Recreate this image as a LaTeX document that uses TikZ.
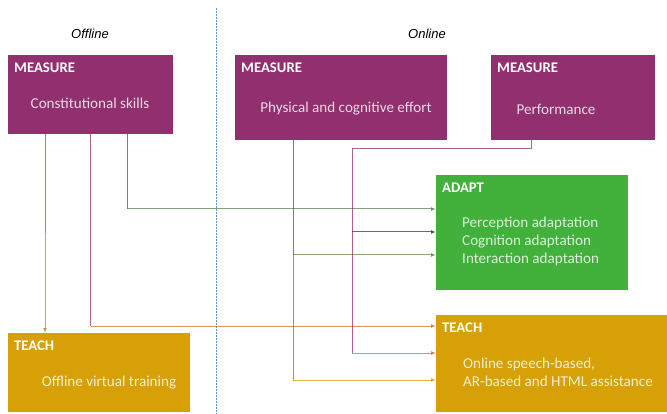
\documentclass[tikz,border=0pt]{standalone}
\usepackage{fontspec}
\setmainfont{Carlito}
\newfontfamily\sidefont{Liberation Sans}
\usetikzlibrary{positioning}
\usetikzlibrary{arrows.meta}
\definecolor{measureC}{RGB}{146,47,110}
\definecolor{adaptC}{RGB}{65,177,59}
\definecolor{teachC}{RGB}{215,160,6}
\definecolor{splitC}{RGB}{91,155,213}
\tikzset{
box/.style={fill=#1, anchor=north west, inner sep=0pt},
head/.style={text=white, font=\fontsize{14.7}{16}\selectfont\bfseries, inner sep=0pt, anchor=north west},
body/.style={text=white!82!#1, font=\fontsize{15.1}{18}\selectfont, align=left, inner sep=0pt},
side/.style={font=\sidefont\itshape\fontsize{13}{15}\selectfont},
wire/.style={draw=#1, line width=1pt, opacity=0.75},
wirearr/.style={wire=#1, -{Latex[length=5pt,width=4pt]}}
}

\begin{document}
\begin{tikzpicture}[x=1pt,y=-1pt]
\useasboundingbox (0,0) rectangle (667,414);

\draw[splitC, line width=1.2pt, dash pattern=on 1.8pt off 1.2pt] (216.7,8) -- (216.7,414);
\node[side](offLbl) at (90,34) {Offline};
\node[side](onLbl) at (427,34) {Online};

\node[box=measureC, minimum width=165pt, minimum height=79pt](mSkill) at (8,55) {};
\node[box=measureC, minimum width=212pt, minimum height=85pt](mEffort) at (235,55) {};
\node[box=measureC, minimum width=164pt, minimum height=85pt](mPerf) at (491,55) {};
\node[box=adaptC, minimum width=192pt, minimum height=115pt](adapt) at (436,175) {};
\node[box=teachC, minimum width=182pt, minimum height=79pt](tOff) at (8,333) {};
\node[box=teachC, minimum width=231pt, minimum height=97pt](tOn) at (436,315) {};

\node[head, below right=8pt and 6pt of mSkill.north west](mSkillHd){MEASURE};
\node[head, below right=8pt and 6pt of mEffort.north west](mEffortHd){MEASURE};
\node[head, below right=8pt and 6pt of mPerf.north west](mPerfHd){MEASURE};
\node[head, below right=8pt and 6pt of adapt.north west](adaptHd){ADAPT};
\node[head, below right=8pt and 6pt of tOff.north west](tOffHd){TEACH};
\node[head, below right=8pt and 6pt of tOn.north west](tOnHd){TEACH};

\node[body=measureC](mSkillTxt) at (90,103) {Constitutional skills};
\node[body=measureC](mEffortTxt) at (346,109) {Physical and cognitive effort};
\node[body=measureC](mPerfTxt) at (556,109) {Performance};
\node[body=adaptC, anchor=west](adaptTxt) at (462,241) {Perception adaptation\\Cognition adaptation\\Interaction adaptation};
\node[body=teachC, anchor=west](tOnTxt) at (463,372) {Online speech-based,\\AR-based and HTML assistance};
\node[body=teachC](tOffTxt) at (109,383) {Offline virtual training};

\coordinate (adaptA) at ([yshift=-34pt]adapt.north west);
\coordinate (adaptB) at ([yshift=-57pt]adapt.north west);
\coordinate (adaptC) at ([yshift=-80pt]adapt.north west);
\coordinate (tOnA) at ([yshift=-11pt]tOn.north west);
\coordinate (tOnB) at ([yshift=-38pt]tOn.north west);
\coordinate (tOnC) at ([yshift=-65pt]tOn.north west);
\coordinate (perfTap) at ([xshift=40pt]mPerf.south west);
\coordinate (perfBend) at (352,149);

\draw[wire=measureC!75!teachC] ([xshift=37pt]mSkill.south west) -- ([xshift=37pt,yshift=100pt]tOff.north west);
\draw[wirearr=measureC!25!teachC] ([xshift=37pt,yshift=100pt]tOff.north west) -- ([xshift=37pt]tOff.north west);

\draw[wire=measureC] (mSkill.south) -- (mSkill.south |- tOnA);
\draw[wirearr=measureC!35!teachC] (mSkill.south |- tOnA) -- (tOnA);

\draw[wire=measureC] ([xshift=119pt]mSkill.south west) -- ([xshift=119pt]mSkill.south west |- adaptA);
\draw[wirearr=measureC!35!adaptC] ([xshift=119pt]mSkill.south west |- adaptA) -- (adaptA);

\draw[wire=measureC] ([xshift=58pt]mEffort.south west) -- ([xshift=58pt]mEffort.south west |- adaptC);
\draw[wirearr=measureC!30!adaptC] ([xshift=58pt]mEffort.south west |- adaptC) -- (adaptC);
\draw[wire=measureC!60!teachC] ([xshift=58pt]mEffort.south west |- adaptC) -- ([xshift=58pt]mEffort.south west |- tOnC);
\draw[wirearr=teachC] ([xshift=58pt]mEffort.south west |- tOnC) -- (tOnC);

\draw[wire=measureC] (perfTap) |- (perfBend) -- (perfBend |- tOnB);
\draw[wirearr=measureC!35!teachC] (perfBend |- tOnB) -- (tOnB);
\draw[wirearr=adaptC!45!black] (perfBend |- adaptB) -- (adaptB);

\end{tikzpicture}
\end{document}
